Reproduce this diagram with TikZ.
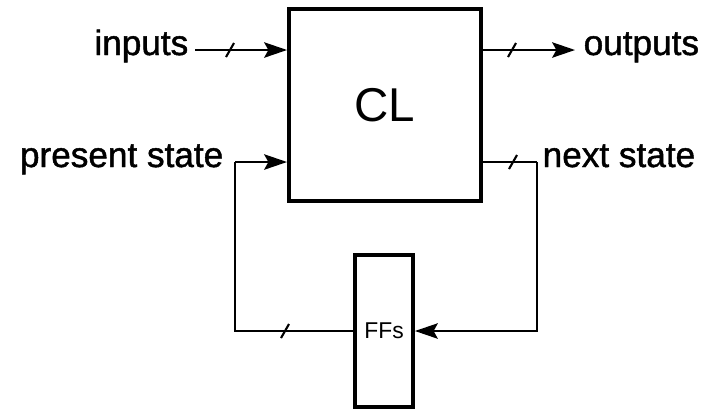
\documentclass[tikz,border=0pt]{standalone}
\usepackage{fontspec}
\setmainfont{Liberation Sans}
\newfontfamily\heavyfont[FakeBold=1.3]{Liberation Sans}
\usetikzlibrary{arrows.meta,calc}
\begin{document}
\begin{tikzpicture}[x=0.01cm,y=-0.01cm,
  block/.style={draw,line width=1.1pt,inner sep=0pt},
  wire/.style={line width=0.5pt},
  arr/.style={wire,-{Stealth[length=6.5pt,width=4.4pt,inset=1.2pt]}},
  lbl/.style={inner sep=0pt,font=\heavyfont\fontsize{10}{12}\selectfont},
  bus/.pic={\draw[line width=0.6pt] (-4,7) -- (4,-7);}]
\useasboundingbox (0,0) rectangle (715,411);
% blocks
\node[block,minimum width=1.92cm,minimum height=1.92cm] (cl) at (385,105)
  {\fontsize{13.5}{16}\selectfont CL};
\node[block,minimum width=0.58cm,minimum height=1.52cm] (ff) at (384,331)
  {\fontsize{6.5}{8}\selectfont FFs};
% labels
\node[lbl,anchor=base east] (in) at (189,55) {inputs};
\node[lbl,anchor=base west] (out) at (583,55) {outputs};
\node[lbl,anchor=base east] (ps) at (224,167) {present state};
\node[lbl,anchor=base west] (ns) at (542,167) {next state};
% connector anchor points
\coordinate (inS) at (195,50);
\coordinate (outE) at (575,50);
\coordinate (psL) at (235,162);
\coordinate (nsR) at (537,162);
% inputs / outputs
\draw[arr] (inS) -- (inS -| cl.west);
\draw[arr] (outE -| cl.east) -- (outE);
\pic at (230,50) {bus};
\pic at (512,50) {bus};
% state loop
\draw[arr] (psL) -- (psL -| cl.west);
\draw[wire] (psL) |- (ff.west);
\draw[wire] (nsR -| cl.east) -- (nsR);
\draw[arr] (nsR) |- (ff.east);
\pic at (513,162) {bus};
\pic at (285,331) {bus};
\end{tikzpicture}
\end{document}
